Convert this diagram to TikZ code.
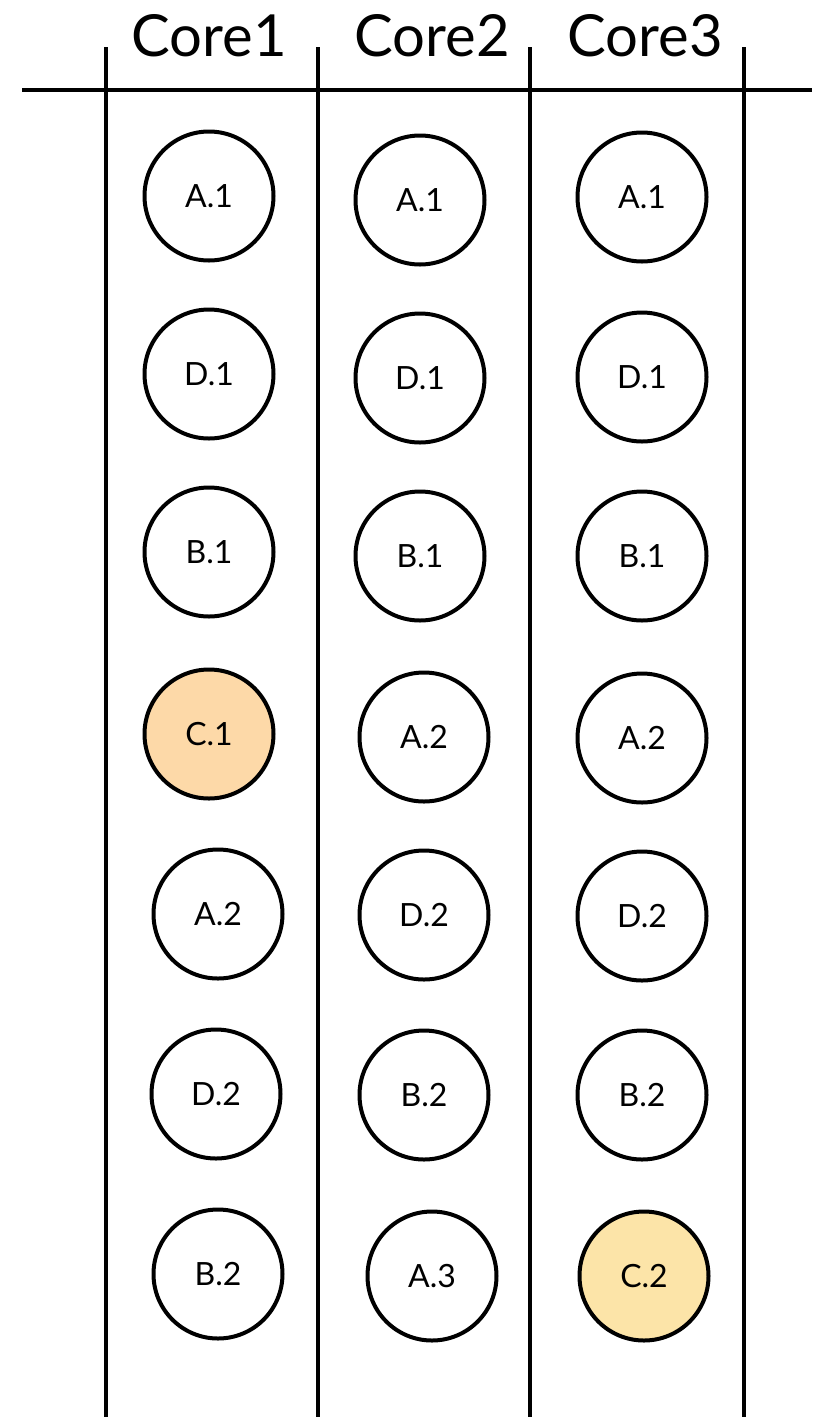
\documentclass[tikz,border=0pt]{standalone}
\usepackage{fontspec}
\setmainfont{Lato}
\definecolor{peach}{HTML}{FDD9A8}
\definecolor{lightyellow}{HTML}{FCE4A8}
\begin{document}
\begin{tikzpicture}[x=1pt,y=-1pt,
  task/.style={circle,draw=black,line width=4pt,minimum size=129pt,inner sep=0pt,font=\fontsize{32}{36}\selectfont},
  rule/.style={line width=3.5pt,black},
  head/.style={font=\fontsize{58}{62}\selectfont,anchor=base}]
\useasboundingbox (0,0) rectangle (812,1417);
% grid lines
\coordinate (h0) at (22,90);
\coordinate (h1) at (812,90);
\draw[rule] (h0) -- (h1);
\foreach \x/\n in {106/a,318/b,530/c,744/d}{
  \coordinate (t\n) at (\x,47);
  \coordinate (b\n) at (\x,1417);
  \draw[rule] (t\n) -- (b\n);
}
% headers
\node[head] (core1) at (209,56) {Core1};
\node[head] (core2) at (432,56) {Core2};
\node[head] (core3) at (645,56) {Core3};
% column 1
\node[task] (a11) at (209,196) {A.1};
\node[task] (a12) at (209,374) {D.1};
\node[task] (a13) at (209,552) {B.1};
\node[task,fill=peach] (a14) at (209,734) {C.1};
\node[task] (a15) at (218,914) {A.2};
\node[task] (a16) at (216,1094) {D.2};
\node[task] (a17) at (218,1274) {B.2};
% column 2
\node[task] (b11) at (420,200) {A.1};
\node[task] (b12) at (420,378) {D.1};
\node[task] (b13) at (420,556) {B.1};
\node[task] (b14) at (424,737) {A.2};
\node[task] (b15) at (424,915) {D.2};
\node[task] (b16) at (424,1095) {B.2};
\node[task] (b17) at (432,1276) {A.3};
% column 3
\node[task] (c11) at (642,197) {A.1};
\node[task] (c12) at (642,377) {D.1};
\node[task] (c13) at (642,556) {B.1};
\node[task] (c14) at (642,738) {A.2};
\node[task] (c15) at (642,916) {D.2};
\node[task] (c16) at (642,1095) {B.2};
\node[task,fill=lightyellow] (c17) at (644,1276) {C.2};
\end{tikzpicture}
\end{document}
